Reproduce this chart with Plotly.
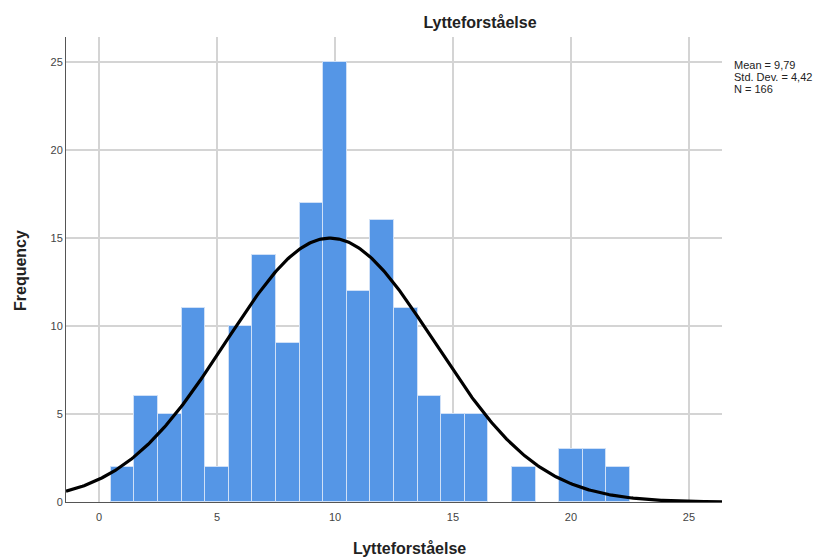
import numpy as np
import plotly.graph_objects as go

# Score values (bin centres, width 1) and their frequencies
scores = [1, 2, 3, 4, 5, 6, 7, 8, 9, 10, 11, 12, 13, 14, 15, 16, 18, 20, 21, 22]
counts = [2, 6, 5, 11, 2, 10, 14, 9, 17, 25, 12, 16, 11, 6, 5, 5, 2, 3, 3, 2]

# Summary statistics shown beside the chart
mean = 9.79
std_dev = 4.42
n_total = 166
bin_width = 1.0

x_ticks = [0, 5, 10, 15, 20, 25]
y_ticks = [0, 5, 10, 15, 20, 25]

x_min, x_max = -1.4, 26.4
y_max = 26.4

# Fitted normal curve scaled to frequency counts
xs = np.linspace(x_min, x_max, 400)
ys = n_total * bin_width / (std_dev * np.sqrt(2 * np.pi)) * np.exp(-0.5 * ((xs - mean) / std_dev) ** 2)

fig = go.Figure()
fig.add_trace(go.Bar(
    x=scores, y=counts, width=bin_width,
    marker=dict(color="#5596e6", line=dict(color="#cfe0f7", width=1)),
    hoverinfo="x+y",
))
fig.add_trace(go.Scatter(
    x=xs, y=ys, mode="lines",
    line=dict(color="#000000", width=3.2),
    hoverinfo="skip",
))

font_family = "Liberation Sans, Arial, sans-serif"

W, H = 827, 558
M_L, M_R, M_T, M_B = 66, 105, 37, 56
plot_w = W - M_L - M_R
plot_h = H - M_T - M_B


def px_x(p):
    return (p - M_L) / plot_w


def px_y(p):
    return 1 - (p - M_T) / plot_h


fig.update_layout(
    width=W, height=H,
    margin=dict(l=M_L, r=M_R, t=M_T, b=M_B, autoexpand=False),
    plot_bgcolor="#ffffff", paper_bgcolor="#ffffff",
    showlegend=False,
    bargap=0,
    font=dict(family=font_family, color="#333333"),
    xaxis=dict(
        range=[x_min, x_max], tickvals=x_ticks,
        showgrid=True, gridcolor="#d4d4d4", gridwidth=1.5,
        zeroline=False, showline=True, linecolor="#555555", linewidth=1,
        ticks="", ticklen=0, ticklabelstandoff=5, automargin=False,
        tickfont=dict(size=11, color="#444444"),
    ),
    yaxis=dict(
        range=[0, y_max], tickvals=y_ticks,
        showgrid=True, gridcolor="#d4d4d4", gridwidth=1.5,
        zeroline=False, showline=True, linecolor="#555555", linewidth=1,
        ticks="", ticklen=0, automargin=False,
        tickfont=dict(size=11, color="#444444"),
    ),
    title=dict(
        text="<b>Lytteforståelse</b>", font=dict(size=16, color="#222222"),
        x=480 / W, xanchor="center", y=1 - 22 / H, yanchor="middle",
    ),
)

# Axis titles
fig.add_annotation(
    xref="paper", yref="paper", x=px_x(409), y=px_y(548),
    xanchor="center", yanchor="middle", showarrow=False,
    text="<b>Lytteforståelse</b>", font=dict(size=16, color="#222222", family=font_family),
)
fig.add_annotation(
    xref="paper", yref="paper", x=px_x(20), y=px_y(270),
    xanchor="center", yanchor="middle", showarrow=False, textangle=-90,
    text="<b>Frequency</b>", font=dict(size=16, color="#222222", family=font_family),
)

# Statistics block to the right of the plot, one line per annotation
stat_lines = [
    f"Mean = {str(mean).replace('.', ',')}",
    f"Std. Dev. = {str(std_dev).replace('.', ',')}",
    f"N = {n_total}",
]
for i, line in enumerate(stat_lines):
    fig.add_annotation(
        xref="paper", yref="paper",
        x=px_x(732), y=px_y(65 + 12 * i),
        xanchor="left", yanchor="middle", align="left", showarrow=False,
        text=line,
        font=dict(size=11, color="#222222", family=font_family),
    )

fig.write_html("out.html")
